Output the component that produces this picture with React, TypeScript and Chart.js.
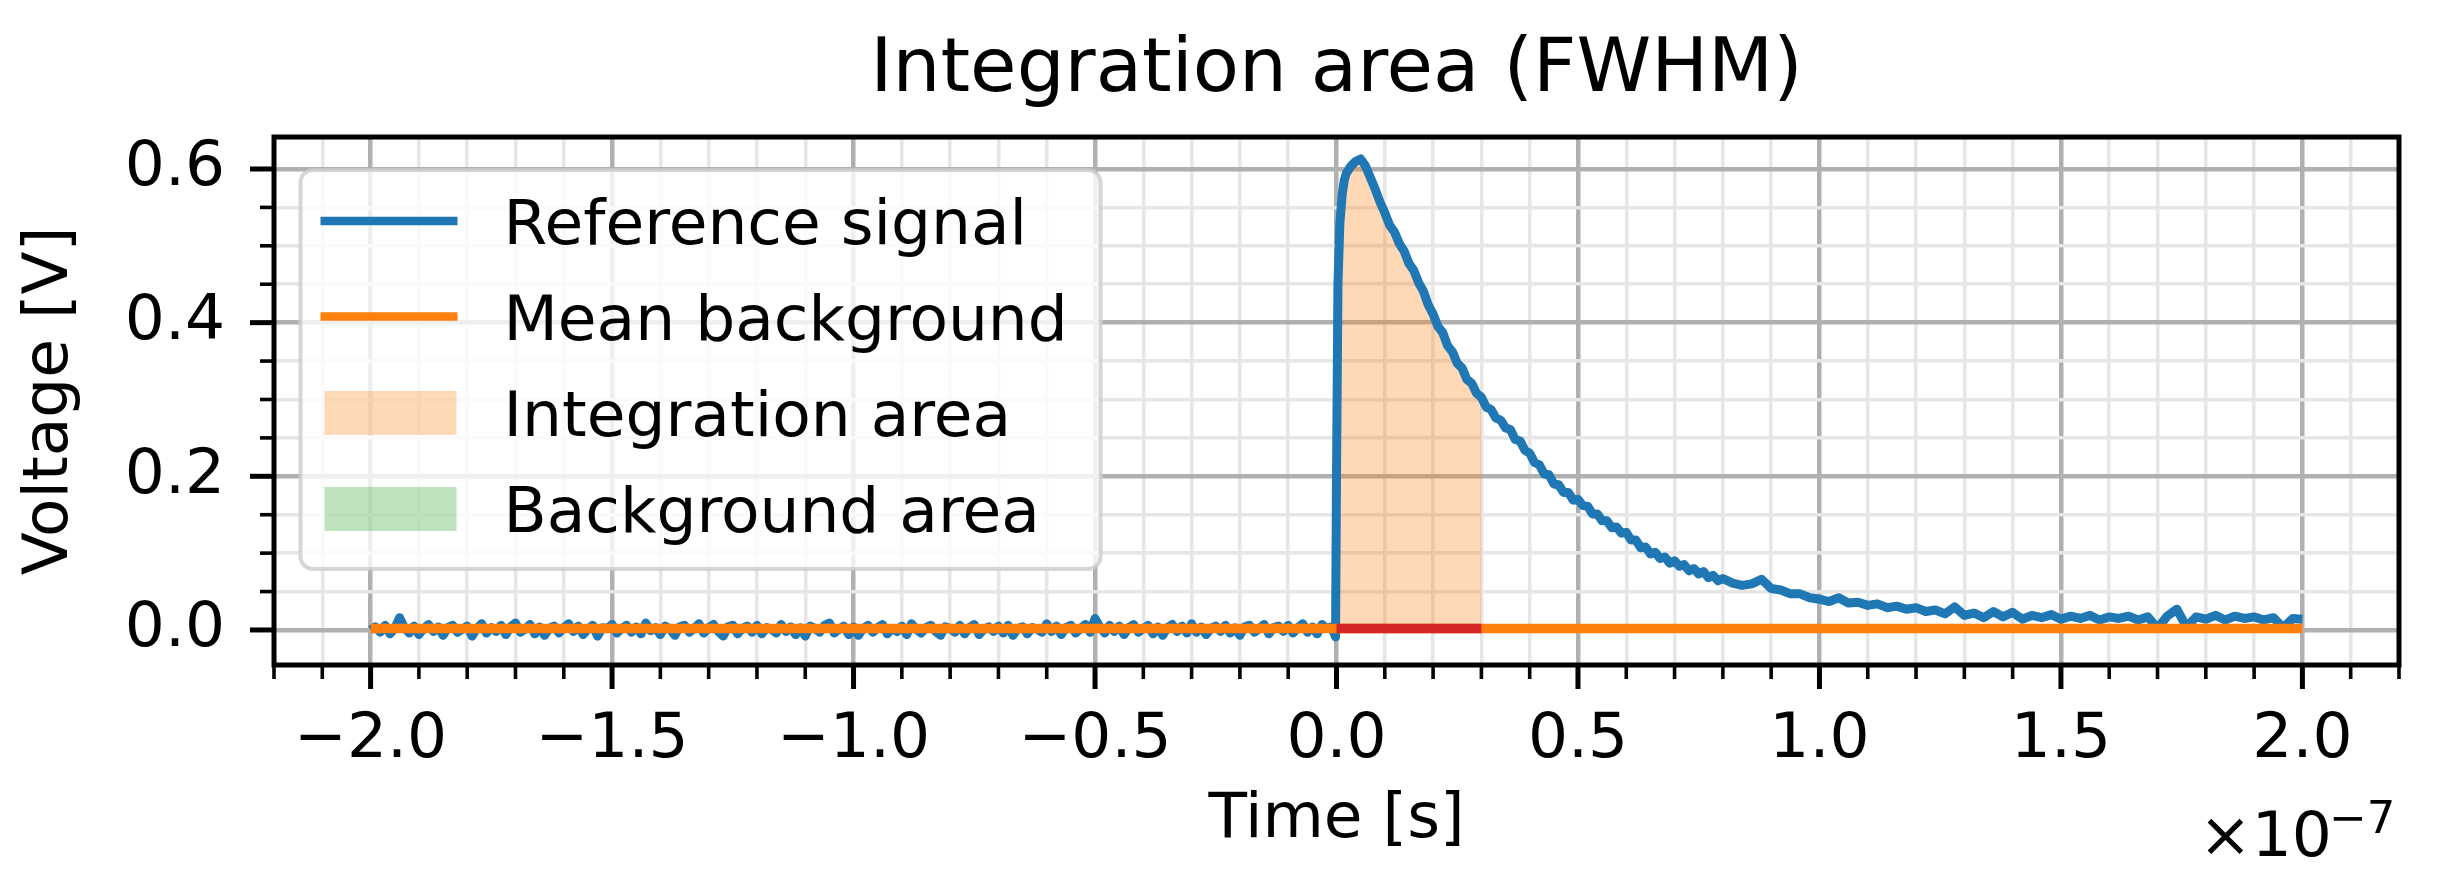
import React, { useEffect, useRef } from "react";
import { Chart, registerables } from "chart.js";

Chart.register(...registerables);

// ---------------- DATA (time in units of 1e-7 s, voltage in V) ----------------
const baselineTime = [
  -2.0, -1.99, -1.98, -1.97, -1.96, -1.95, -1.94, -1.93, -1.92, -1.91,
  -1.9, -1.89, -1.88, -1.87, -1.86, -1.85, -1.84, -1.83, -1.82, -1.81,
  -1.8, -1.79, -1.78, -1.77, -1.76, -1.75, -1.74, -1.73, -1.72, -1.71,
  -1.7, -1.69, -1.68, -1.67, -1.66, -1.65, -1.64, -1.63, -1.62, -1.61,
  -1.6, -1.59, -1.58, -1.57, -1.56, -1.55, -1.54, -1.53, -1.52, -1.51,
  -1.5, -1.49, -1.48, -1.47, -1.46, -1.45, -1.44, -1.43, -1.42, -1.41,
  -1.4, -1.39, -1.38, -1.37, -1.36, -1.35, -1.34, -1.33, -1.32, -1.31,
  -1.3, -1.29, -1.28, -1.27, -1.26, -1.25, -1.24, -1.23, -1.22, -1.21,
  -1.2, -1.19, -1.18, -1.17, -1.16, -1.15, -1.14, -1.13, -1.12, -1.11,
  -1.1, -1.09, -1.08, -1.07, -1.06, -1.05, -1.04, -1.03, -1.02, -1.01,
  -1.0, -0.99, -0.98, -0.97, -0.96, -0.95, -0.94, -0.93, -0.92, -0.91,
  -0.9, -0.89, -0.88, -0.87, -0.86, -0.85, -0.84, -0.83, -0.82, -0.81,
  -0.8, -0.79, -0.78, -0.77, -0.76, -0.75, -0.74, -0.73, -0.72, -0.71,
  -0.7, -0.69, -0.68, -0.67, -0.66, -0.65, -0.64, -0.63, -0.62, -0.61,
  -0.6, -0.59, -0.58, -0.57, -0.56, -0.55, -0.54, -0.53, -0.52, -0.51,
  -0.5, -0.49, -0.48, -0.47, -0.46, -0.45, -0.44, -0.43, -0.42, -0.41,
  -0.4, -0.39, -0.38, -0.37, -0.36, -0.35, -0.34, -0.33, -0.32, -0.31,
  -0.3, -0.29, -0.28, -0.27, -0.26, -0.25, -0.24, -0.23, -0.22, -0.21,
  -0.2, -0.19, -0.18, -0.17, -0.16, -0.15, -0.14, -0.13, -0.12, -0.11,
  -0.1, -0.09, -0.08, -0.07, -0.06, -0.05, -0.04, -0.03, -0.02,
];
const baselineVoltage = [
  0.0, 0.004, -0.003, 0.006, -0.005, 0.002, 0.016, 0.003, -0.004, 0.005,
  -0.006, 0.002, 0.007, -0.002, 0.004, -0.007, 0.003, 0.006, -0.003, 0.001,
  0.005, -0.008, 0.002, 0.008, -0.004, 0.003, -0.002, 0.006, -0.006, 0.004,
  0.009, -0.003, 0.001, 0.007, -0.005, 0.004, -0.007, 0.002, 0.005, -0.004,
  0.003, 0.008, -0.002, 0.005, -0.006, 0.001, 0.006, -0.008, 0.003, 0.002,
  0.007, -0.004, 0.002, 0.006, -0.003, 0.004, -0.005, 0.009, -0.001, 0.003,
  -0.006, 0.005, 0.001, -0.007, 0.004, 0.006, -0.003, 0.002, 0.008, -0.004,
  0.003, 0.007, -0.002, -0.008, 0.004, 0.006, -0.005, 0.002, 0.005, -0.003,
  0.006, -0.005, 0.003, 0.001, -0.004, 0.007, -0.002, 0.004, -0.006, 0.003,
  -0.008, 0.005, 0.002, -0.003, 0.006, 0.009, -0.004, 0.001, 0.005, -0.006,
  0.004, -0.007, 0.002, 0.006, -0.003, 0.003, 0.007, -0.005, 0.002, -0.002,
  0.005, -0.006, 0.008, 0.001, -0.004, 0.003, 0.006, -0.002, -0.007, 0.004,
  0.002, -0.003, 0.006, -0.005, 0.003, 0.007, -0.006, 0.001, 0.004, -0.002,
  0.005, -0.004, 0.006, -0.007, 0.002, 0.004, -0.005, 0.003, 0.001, -0.003,
  0.008, -0.002, 0.005, -0.006, 0.003, 0.006, -0.004, 0.002, 0.007, -0.003,
  0.015, 0.004, -0.004, 0.006, -0.002, 0.005, -0.006, 0.003, 0.007, -0.003,
  0.002, 0.006, -0.005, 0.004, -0.007, 0.003, 0.007, -0.002, 0.005, -0.004,
  0.008, -0.003, 0.004, -0.006, 0.002, 0.005, -0.002, 0.006, -0.004, 0.003,
  -0.007, 0.004, 0.006, -0.003, 0.002, 0.007, -0.005, 0.003, 0.005, -0.002,
  0.006, -0.004, 0.003, 0.008, -0.003, 0.004, -0.005, 0.007, 0.002,
];
const pulseTime = [
  -0.01, -0.002, 0.0, 0.003, 0.007, 0.012, 0.016, 0.02, 0.03, 0.04,
  0.05, 0.06, 0.07, 0.08, 0.09,
  0.1, 0.11, 0.12, 0.13, 0.14, 0.15, 0.16, 0.17, 0.18, 0.19,
  0.2, 0.21, 0.22, 0.23, 0.24, 0.25, 0.26, 0.27, 0.28, 0.29,
  0.3, 0.31, 0.32, 0.33, 0.34, 0.35, 0.36, 0.37, 0.38, 0.39,
  0.4, 0.41, 0.42, 0.43, 0.44, 0.45, 0.46, 0.47, 0.48, 0.49,
  0.5, 0.51, 0.52, 0.53, 0.54, 0.55, 0.56, 0.57, 0.58, 0.59,
  0.6, 0.61, 0.62, 0.63, 0.64, 0.65, 0.66, 0.67, 0.68, 0.69,
  0.7, 0.71, 0.72, 0.73, 0.74, 0.75, 0.76, 0.77, 0.78, 0.79,
  0.8,
];
const pulseVoltage = [
  0.004, -0.009, 0.2, 0.45, 0.53, 0.568, 0.585, 0.594, 0.604, 0.61,
  0.613, 0.604, 0.589, 0.574, 0.557,
  0.543, 0.527, 0.518, 0.503, 0.493, 0.477, 0.468, 0.452, 0.441, 0.423,
  0.411, 0.395, 0.387, 0.37, 0.362, 0.347, 0.341, 0.326, 0.321, 0.308,
  0.303, 0.29, 0.287, 0.276, 0.273, 0.263, 0.261, 0.248, 0.246, 0.234,
  0.23, 0.218, 0.215, 0.203, 0.202, 0.19, 0.189, 0.179, 0.179, 0.169,
  0.17, 0.162, 0.161, 0.151, 0.151, 0.142, 0.142, 0.133, 0.134, 0.126,
  0.127, 0.117, 0.117, 0.107, 0.108, 0.099, 0.101, 0.093, 0.095, 0.087,
  0.09, 0.083, 0.085, 0.077, 0.08, 0.073, 0.076, 0.068, 0.071, 0.064,
  0.067,
];
const tailTime = [
  0.82, 0.84, 0.86, 0.88, 0.9, 0.92, 0.94, 0.96, 0.98, 1.0,
  1.02, 1.04, 1.06, 1.08, 1.1, 1.12, 1.14, 1.16, 1.18, 1.2,
  1.22, 1.24, 1.26, 1.28, 1.3, 1.32, 1.34, 1.36, 1.38, 1.4,
  1.42, 1.44, 1.46, 1.48, 1.5, 1.52, 1.54, 1.56, 1.58, 1.6,
  1.62, 1.64, 1.66, 1.68, 1.7, 1.72, 1.74, 1.76, 1.78, 1.8,
  1.82, 1.84, 1.86, 1.88, 1.9, 1.92, 1.94, 1.96, 1.98, 2.0,
];
const tailVoltage = [
  0.061, 0.058, 0.06, 0.066, 0.054, 0.052, 0.047, 0.047, 0.042, 0.04,
  0.037, 0.042, 0.035, 0.036, 0.032, 0.034, 0.029, 0.031, 0.027, 0.029,
  0.024, 0.026, 0.021, 0.03, 0.019, 0.022, 0.016, 0.024, 0.017, 0.023,
  0.014, 0.019, 0.016, 0.02, 0.014, 0.018, 0.015, 0.019, 0.013, 0.017,
  0.015, 0.018, 0.013, 0.017, 0.002, 0.018, 0.027, 0.004, 0.017, 0.014,
  0.019, 0.013, 0.018, 0.015, 0.017, 0.013, 0.016, 0.003, 0.015, 0.014,
];

const MEAN_BACKGROUND = 0.002;
const INTEGRATION_START = 0.0;
const INTEGRATION_END = 0.3;

const X_MAJOR_TICKS = [-2.0, -1.5, -1.0, -0.5, 0.0, 0.5, 1.0, 1.5, 2.0];
const Y_MAJOR_TICKS = [0.0, 0.2, 0.4, 0.6];
const X_MINOR_STEP = 0.1;
const Y_MINOR_STEP = 0.05;
const X_LIMITS = [-2.2, 2.2];
const Y_LIMITS = [-0.0456, 0.6416];

const TITLE = "Integration area (FWHM)";
const X_LABEL = "Time [s]";
const Y_LABEL = "Voltage [V]";
const OFFSET_BASE = "×10";
const OFFSET_EXPONENT = "−7";

const LABEL_SIGNAL = "Reference signal";
const LABEL_MEAN = "Mean background";
const LABEL_INTEGRATION = "Integration area";
const LABEL_BACKGROUND = "Background area";

// ---------------- STYLE ----------------
const FONT = "'DejaVu Sans', 'Liberation Sans', sans-serif";
const FS = 63;
const W = 2441;
const H = 892;
const BLUE = "#1f77b4";
const ORANGE = "#ff7f0e";
const RED = "#d62728";

const near = (a: number, b: number) => Math.abs(a - b) < 1e-6;
const isMajorX = (v: number) => X_MAJOR_TICKS.some((m) => near(m, v));
const isMajorY = (v: number) => Y_MAJOR_TICKS.some((m) => near(m, v));
const fmt = (v: number) => (near(v, 0) ? "0.0" : v.toFixed(1).replace("-", "\u2212"));

function stepValues(min: number, max: number, step: number) {
  const out: number[] = [];
  for (let k = Math.ceil(min / step - 1e-9); k * step <= max + 1e-9; k++) {
    out.push(+(k * step).toFixed(6));
  }
  return out;
}

const decorPlugin = {
  id: "mplDecor",
  afterDraw(chart: any) {
    const { ctx, chartArea: a, scales } = chart;
    ctx.save();
    const xs = scales.x;
    const ys = scales.y;
    ctx.strokeStyle = "#000";
    xs.ticks.forEach((t: any) => {
      const major = isMajorX(t.value);
      const px = xs.getPixelForValue(t.value);
      ctx.lineWidth = major ? 5 : 3.6;
      ctx.beginPath();
      ctx.moveTo(px, a.bottom);
      ctx.lineTo(px, a.bottom + (major ? 24 : 14));
      ctx.stroke();
    });
    ys.ticks.forEach((t: any) => {
      const major = isMajorY(t.value);
      const py = ys.getPixelForValue(t.value);
      ctx.lineWidth = major ? 5 : 3.6;
      ctx.beginPath();
      ctx.moveTo(a.left, py);
      ctx.lineTo(a.left - (major ? 24 : 14), py);
      ctx.stroke();
    });
    ctx.lineWidth = 5;
    ctx.strokeRect(a.left, a.top, a.right - a.left, a.bottom - a.top);

    // offset text of the x axis
    ctx.fillStyle = "#000";
    ctx.textAlign = "left";
    ctx.textBaseline = "alphabetic";
    ctx.font = `${FS}px ${FONT}`;
    const ox = 2199;
    ctx.fillText(OFFSET_BASE, ox, 856);
    const w = ctx.measureText(OFFSET_BASE).width;
    ctx.font = `45px ${FONT}`;
    ctx.fillText(OFFSET_EXPONENT, ox + w - 3, 833);

    // legend
    const bx = a.left + 26.5;
    const by = a.top + 33;
    const bw = 800;
    const bh = 399;
    const r = 12.6;
    ctx.beginPath();
    ctx.moveTo(bx + r, by);
    ctx.lineTo(bx + bw - r, by);
    ctx.arcTo(bx + bw, by, bx + bw, by + r, r);
    ctx.lineTo(bx + bw, by + bh - r);
    ctx.arcTo(bx + bw, by + bh, bx + bw - r, by + bh, r);
    ctx.lineTo(bx + r, by + bh);
    ctx.arcTo(bx, by + bh, bx, by + bh - r, r);
    ctx.lineTo(bx, by + r);
    ctx.arcTo(bx, by, bx + r, by, r);
    ctx.closePath();
    ctx.fillStyle = "rgba(255,255,255,0.8)";
    ctx.fill();
    ctx.lineWidth = 4;
    ctx.strokeStyle = "rgba(204,204,204,0.8)";
    ctx.stroke();

    const entries = chart.data.datasets.filter((d: any) => d.legendKind);
    const rowY = [221, 316.5, 413, 509];
    entries.forEach((d: any, i: number) => {
      const cy = rowY[i];
      if (d.legendKind === "line") {
        ctx.strokeStyle = d.borderColor;
        ctx.lineWidth = 8.5;
        ctx.lineCap = "butt";
        ctx.beginPath();
        ctx.moveTo(bx + 20, cy);
        ctx.lineTo(bx + 157, cy);
        ctx.stroke();
      } else {
        ctx.fillStyle = d.backgroundColor;
        ctx.fillRect(bx + 24, cy - 22, 132, 44);
      }
      ctx.fillStyle = "#000";
      ctx.font = `${FS}px ${FONT}`;
      ctx.textAlign = "left";
      ctx.textBaseline = "alphabetic";
      ctx.fillText(d.label, bx + 203, cy + 23);
    });
    ctx.restore();
  },
};

export default function App() {
  const ref = useRef<HTMLCanvasElement | null>(null);

  useEffect(() => {
    document.body.style.margin = "0";
    const canvas = ref.current;
    if (!canvas) return;

    const time = [...baselineTime, ...pulseTime, ...tailTime];
    const volt = [...baselineVoltage, ...pulseVoltage, ...tailVoltage];
    const signal = time.map((t, i) => ({ x: t, y: volt[i] }));
    const integration = signal.filter(
      (p) => p.x >= INTEGRATION_START - 1e-9 && p.x <= INTEGRATION_END + 1e-9
    );
    const meanLine = [
      { x: time[0], y: MEAN_BACKGROUND },
      { x: time[time.length - 1], y: MEAN_BACKGROUND },
    ];
    const windowLine = [
      { x: INTEGRATION_START, y: MEAN_BACKGROUND },
      { x: INTEGRATION_END, y: MEAN_BACKGROUND },
    ];

    const xTicks = stepValues(X_LIMITS[0], X_LIMITS[1], X_MINOR_STEP);
    const yTicks = stepValues(Y_LIMITS[0], Y_LIMITS[1], Y_MINOR_STEP);

    const chart = new Chart(canvas, {
      type: "line",
      data: {
        datasets: [
          {
            label: LABEL_SIGNAL,
            legendKind: "line",
            data: signal,
            borderColor: BLUE,
            backgroundColor: BLUE,
            borderWidth: 9,
            pointRadius: 0,
            tension: 0,
            borderJoinStyle: "round",
            fill: false,
            order: 3,
          } as any,
          {
            label: LABEL_MEAN,
            legendKind: "line",
            data: meanLine,
            borderColor: ORANGE,
            backgroundColor: ORANGE,
            borderWidth: 9.5,
            pointRadius: 0,
            fill: false,
            order: 2,
          } as any,
          {
            label: LABEL_INTEGRATION,
            legendKind: "patch",
            data: integration,
            borderColor: "rgba(0,0,0,0)",
            backgroundColor: "rgba(255,127,14,0.3)",
            borderWidth: 0,
            pointRadius: 0,
            tension: 0,
            fill: { value: MEAN_BACKGROUND },
            order: 4,
          } as any,
          {
            label: LABEL_BACKGROUND,
            legendKind: "patch",
            data: [],
            borderColor: "rgba(0,0,0,0)",
            backgroundColor: "rgba(44,160,44,0.3)",
            borderWidth: 0,
            pointRadius: 0,
            fill: { value: MEAN_BACKGROUND },
            order: 5,
          } as any,
          {
            label: "Integration window",
            data: windowLine,
            borderColor: RED,
            backgroundColor: RED,
            borderWidth: 9.5,
            pointRadius: 0,
            fill: false,
            order: 1,
          } as any,
        ],
      },
      options: {
        animation: false,
        responsive: false,
        devicePixelRatio: 1,
        layout: { padding: { left: 0, right: 42, top: 0, bottom: 0 } },
        plugins: {
          legend: { display: false },
          tooltip: { enabled: false },
          title: {
            display: true,
            text: TITLE,
            color: "#000",
            fullSize: false,
            font: { family: FONT, size: 75.6, weight: "normal", lineHeight: 1.2 },
            padding: { top: 26, bottom: 20.3 },
          },
        },
        scales: {
          x: {
            type: "linear",
            min: X_LIMITS[0],
            max: X_LIMITS[1],
            afterBuildTicks: (s: any) => {
              s.ticks = xTicks.map((v) => ({ value: v }));
            },
            afterFit: (s: any) => {
              s.height = H - 665;
            },
            ticks: {
              autoSkip: false,
              maxRotation: 0,
              minRotation: 0,
              padding: 38,
              color: "#000",
              font: { family: FONT, size: FS, lineHeight: 1.2 },
              callback: (v: any) => (isMajorX(Number(v)) ? fmt(Number(v)) : ""),
            },
            grid: {
              drawTicks: false,
              color: (c: any) => (c.tick && isMajorX(c.tick.value) ? "#b0b0b0" : "#e6e6e6"),
              lineWidth: (c: any) => (c.tick && isMajorX(c.tick.value) ? 4.5 : 3.5),
            },
            border: { display: false },
            title: {
              display: true,
              text: X_LABEL,
              color: "#000",
              font: { family: FONT, size: FS, lineHeight: 1.2 },
              padding: { top: 0, bottom: 34 },
            },
          },
          y: {
            type: "linear",
            min: Y_LIMITS[0],
            max: Y_LIMITS[1],
            afterBuildTicks: (s: any) => {
              s.ticks = yTicks.map((v) => ({ value: v }));
            },
            afterFit: (s: any) => {
              s.width = 274;
            },
            ticks: {
              autoSkip: false,
              padding: 49,
              color: "#000",
              font: { family: FONT, size: FS, lineHeight: 1.2 },
              callback: (v: any) => (isMajorY(Number(v)) ? fmt(Number(v)) : ""),
            },
            grid: {
              drawTicks: false,
              color: (c: any) => (c.tick && isMajorY(c.tick.value) ? "#b0b0b0" : "#e6e6e6"),
              lineWidth: (c: any) => (c.tick && isMajorY(c.tick.value) ? 4.5 : 3.5),
            },
            border: { display: false },
            title: {
              display: true,
              text: Y_LABEL,
              color: "#000",
              font: { family: FONT, size: FS, lineHeight: 1.2 },
              padding: { top: 13, bottom: 0 },
            },
          },
        },
      } as any,
      plugins: [decorPlugin],
    });

    return () => chart.destroy();
  }, []);

  return (
    <div style={{ width: W, height: H, background: "#fff" }}>
      <canvas ref={ref} width={W} height={H} style={{ display: "block", width: W, height: H }} />
    </div>
  );
}
